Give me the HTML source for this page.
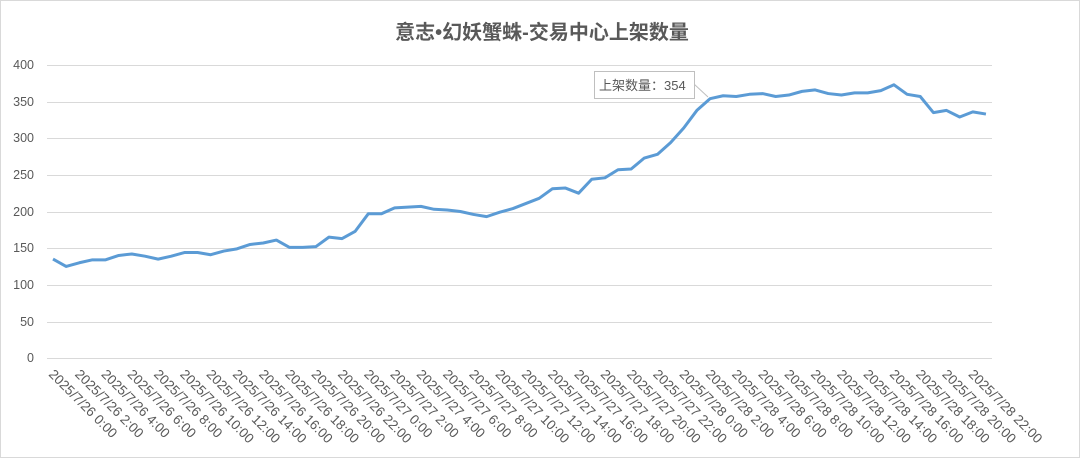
<!DOCTYPE html>
<html><head><meta charset="utf-8"><style>
body{margin:0;background:#fff}
svg{display:block;font-family:"Liberation Sans","Noto Sans CJK SC",sans-serif}
</style></head><body>
<svg width="1080" height="458" viewBox="0 0 1080 458">
<rect x="0.5" y="0.5" width="1079" height="457" fill="#fff" stroke="#d9d9d9"/>
<text x="542" y="39" text-anchor="middle" font-size="20" font-weight="bold" fill="#595959">意志•幻妖蟹蛛-交易中心上架数量</text>
<g stroke="#d9d9d9" stroke-width="1">
<line x1="47" x2="992" y1="65.5" y2="65.5"/><line x1="47" x2="992" y1="102.5" y2="102.5"/>
<line x1="47" x2="992" y1="138.5" y2="138.5"/><line x1="47" x2="992" y1="175.5" y2="175.5"/>
<line x1="47" x2="992" y1="212.5" y2="212.5"/><line x1="47" x2="992" y1="248.5" y2="248.5"/>
<line x1="47" x2="992" y1="285.5" y2="285.5"/><line x1="47" x2="992" y1="322.5" y2="322.5"/>
<line x1="47" x2="992" y1="358.5" y2="358.5"/>
</g>
<g font-size="12.5" fill="#595959" text-anchor="end">
<text x="34" y="69">400</text><text x="34" y="106">350</text><text x="34" y="142">300</text>
<text x="34" y="179">250</text><text x="34" y="216">200</text><text x="34" y="252">150</text>
<text x="34" y="289">100</text><text x="34" y="326">50</text><text x="34" y="362">0</text>
</g>
<polyline transform="translate(53,358) scale(13.14,-0.7325)" vector-effect="non-scaling-stroke" fill="none" stroke="#5b9bd5" stroke-width="3" stroke-linejoin="round"
points="0,135 1,125 2,130 3,134 4,134 5,140 6,142 7,139 8,135 9,139 10,144 11,144 12,141 13,146 14,149 15,155 16,157 17,161 18,151 19,151 20,152 21,165 22,163 23,173 24,197 25,197 26,205 27,206 28,207 29,203 30,202 31,200 32,196 33,193 34,199 35,204 36,211 37,218 38,231 39,232 40,225 41,244 42,246 43,257 44,258 45,273 46,278 47,294 48,314 49,338 50,354 51,358 52,357 53,360 54,361 55,357 56,359 57,364 58,366 59,361 60,359 61,362 62,362 63,365 64,373 65,360 66,357 67,335 68,338 69,329 70,336 71,333"/>
<line x1="694" y1="84" x2="708" y2="97" stroke="#bfbfbf"/>
<rect x="594.5" y="71.5" width="100" height="27" fill="#fff" stroke="#bfbfbf"/>
<text x="599" y="90" font-size="13" fill="#595959">上架数量：354</text>
<g font-size="13.5" fill="#595959">
<text transform="translate(48,375) rotate(45)">2025/7/26 0:00</text>
<text transform="translate(74.3,375) rotate(45)">2025/7/26 2:00</text>
<text transform="translate(100.6,375) rotate(45)">2025/7/26 4:00</text>
<text transform="translate(126.8,375) rotate(45)">2025/7/26 6:00</text>
<text transform="translate(153.1,375) rotate(45)">2025/7/26 8:00</text>
<text transform="translate(179.4,375) rotate(45)">2025/7/26 10:00</text>
<text transform="translate(205.7,375) rotate(45)">2025/7/26 12:00</text>
<text transform="translate(232,375) rotate(45)">2025/7/26 14:00</text>
<text transform="translate(258.2,375) rotate(45)">2025/7/26 16:00</text>
<text transform="translate(284.5,375) rotate(45)">2025/7/26 18:00</text>
<text transform="translate(310.8,375) rotate(45)">2025/7/26 20:00</text>
<text transform="translate(337.1,375) rotate(45)">2025/7/26 22:00</text>
<text transform="translate(363.4,375) rotate(45)">2025/7/27 0:00</text>
<text transform="translate(389.6,375) rotate(45)">2025/7/27 2:00</text>
<text transform="translate(415.9,375) rotate(45)">2025/7/27 4:00</text>
<text transform="translate(442.2,375) rotate(45)">2025/7/27 6:00</text>
<text transform="translate(468.5,375) rotate(45)">2025/7/27 8:00</text>
<text transform="translate(494.8,375) rotate(45)">2025/7/27 10:00</text>
<text transform="translate(521,375) rotate(45)">2025/7/27 12:00</text>
<text transform="translate(547.3,375) rotate(45)">2025/7/27 14:00</text>
<text transform="translate(573.6,375) rotate(45)">2025/7/27 16:00</text>
<text transform="translate(599.9,375) rotate(45)">2025/7/27 18:00</text>
<text transform="translate(626.2,375) rotate(45)">2025/7/27 20:00</text>
<text transform="translate(652.4,375) rotate(45)">2025/7/27 22:00</text>
<text transform="translate(678.7,375) rotate(45)">2025/7/28 0:00</text>
<text transform="translate(705,375) rotate(45)">2025/7/28 2:00</text>
<text transform="translate(731.3,375) rotate(45)">2025/7/28 4:00</text>
<text transform="translate(757.6,375) rotate(45)">2025/7/28 6:00</text>
<text transform="translate(783.8,375) rotate(45)">2025/7/28 8:00</text>
<text transform="translate(810.1,375) rotate(45)">2025/7/28 10:00</text>
<text transform="translate(836.4,375) rotate(45)">2025/7/28 12:00</text>
<text transform="translate(862.7,375) rotate(45)">2025/7/28 14:00</text>
<text transform="translate(889,375) rotate(45)">2025/7/28 16:00</text>
<text transform="translate(915.2,375) rotate(45)">2025/7/28 18:00</text>
<text transform="translate(941.5,375) rotate(45)">2025/7/28 20:00</text>
<text transform="translate(967.8,375) rotate(45)">2025/7/28 22:00</text>
</g>
</svg>
</body></html>
